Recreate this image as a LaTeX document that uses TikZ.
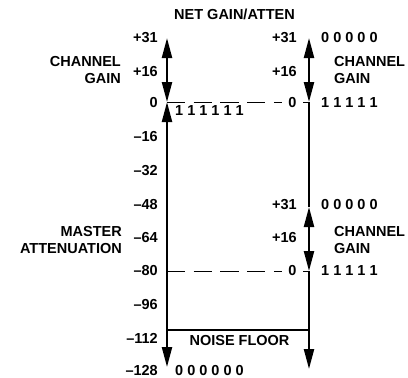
\documentclass[tikz,border=0pt]{standalone}
\usepackage{fontspec}
\setmainfont{Liberation Sans}
\usetikzlibrary{arrows.meta}
\tikzset{
  lbl/.style={font=\fontsize{14.5}{17}\selectfont\bfseries, inner sep=0pt},
  ticklbl/.style={lbl, anchor=east},
  codelbl/.style={lbl, anchor=west},
  axisline/.style={line width=2.2pt, -{Triangle[length=20pt,width=10pt]}},
  dbl/.style={line width=2.2pt, {Triangle[length=20pt,width=10pt]}-{Triangle[length=20pt,width=10pt]}},
  plainline/.style={line width=2.2pt},
  dashline/.style={line width=1pt, dash pattern=on 18.3pt off 8.4pt},
  zerolbl/.style={lbl, fill=white, inner xsep=6pt, inner ysep=1pt}
}
\begin{document}
\begin{tikzpicture}[x=1pt,y=-1pt]
\path[use as bounding box] (0,0) rectangle (408,378);
% coordinates
\coordinate (L31) at (167,38);
\coordinate (L0) at (167,102);
\coordinate (Lnf) at (167,330);
\coordinate (Lbot) at (167,367);
\coordinate (R31) at (309,38);
\coordinate (R0) at (309,102);
\coordinate (R31b) at (309,207);
\coordinate (R0b) at (309,271);
\coordinate (Rnf) at (309,330);
\coordinate (Rbot) at (309,369);
\coordinate (L80) at (167,271);
% title
\node[lbl] (title) at (234.5,14) {NET GAIN/ATTEN};
% dashed lines
\draw[dashline] (L0) -- (R0);
\draw[dashline] (L80) -- (R0b);
% noise floor
\draw[plainline] (Lnf) -- (Rnf);
% axes
\draw[dbl] (L31) -- (L0);
\draw[dbl] (L0) -- (Lbot);
\draw[dbl] (R31) -- (R0);
\draw[plainline] (R0) -- (R31b);
\draw[dbl] (R31b) -- (R0b);
\draw[axisline] (R0b) -- (Rbot);
% left tick labels
\node[ticklbl] (lp31) at (158,38) {+31};
\node[ticklbl] (lp16) at (158,72) {+16};
\node[ticklbl] (l0) at (158,103) {0};
\node[ticklbl] (lm16) at (158,137) {–16};
\node[ticklbl] (lm32) at (158,171) {–32};
\node[ticklbl] (lm48) at (158,205) {–48};
\node[ticklbl] (lm64) at (158,238) {–64};
\node[ticklbl] (lm80) at (158,271) {–80};
\node[ticklbl] (lm96) at (158,305) {–96};
\node[ticklbl] (lm112) at (158,338) {–112};
\node[ticklbl] (lm128) at (158,370.5) {–128};
% left side captions
\node[lbl, anchor=east, align=right] (lcg) at (121,70) {CHANNEL\\GAIN};
\node[lbl, anchor=east, align=right] (lma) at (122,240) {MASTER\\ATTENUATION};
% right tick labels
\node[ticklbl] (rp31) at (297,38) {+31};
\node[ticklbl] (rp16) at (297,72) {+16};
\node[zerolbl] (r0) at (292.5,103) {0};
\node[ticklbl] (rp31b) at (297,205) {+31};
\node[ticklbl] (rp16b) at (297,238) {+16};
\node[zerolbl] (r0b) at (292.5,271) {0};
% right codes
\node[codelbl] (c1) at (321,38) {0 0 0 0 0};
\node[lbl, anchor=west, align=left] (rcg) at (334,70.5) {CHANNEL\\GAIN};
\node[codelbl] (c2) at (321,103) {1 1 1 1 1};
\node[codelbl] (c3) at (321,205) {0 0 0 0 0};
\node[lbl, anchor=west, align=left] (rcg2) at (334,240) {CHANNEL\\GAIN};
\node[codelbl] (c4) at (321,271) {1 1 1 1 1};
% bottom/left codes
\node[codelbl] (c5) at (175,111) {1 1 1 1 1 1};
\node[codelbl] (c6) at (175,370.5) {0 0 0 0 0 0};
\node[lbl] (nf) at (239.5,341) {NOISE FLOOR};
\end{tikzpicture}
\end{document}
